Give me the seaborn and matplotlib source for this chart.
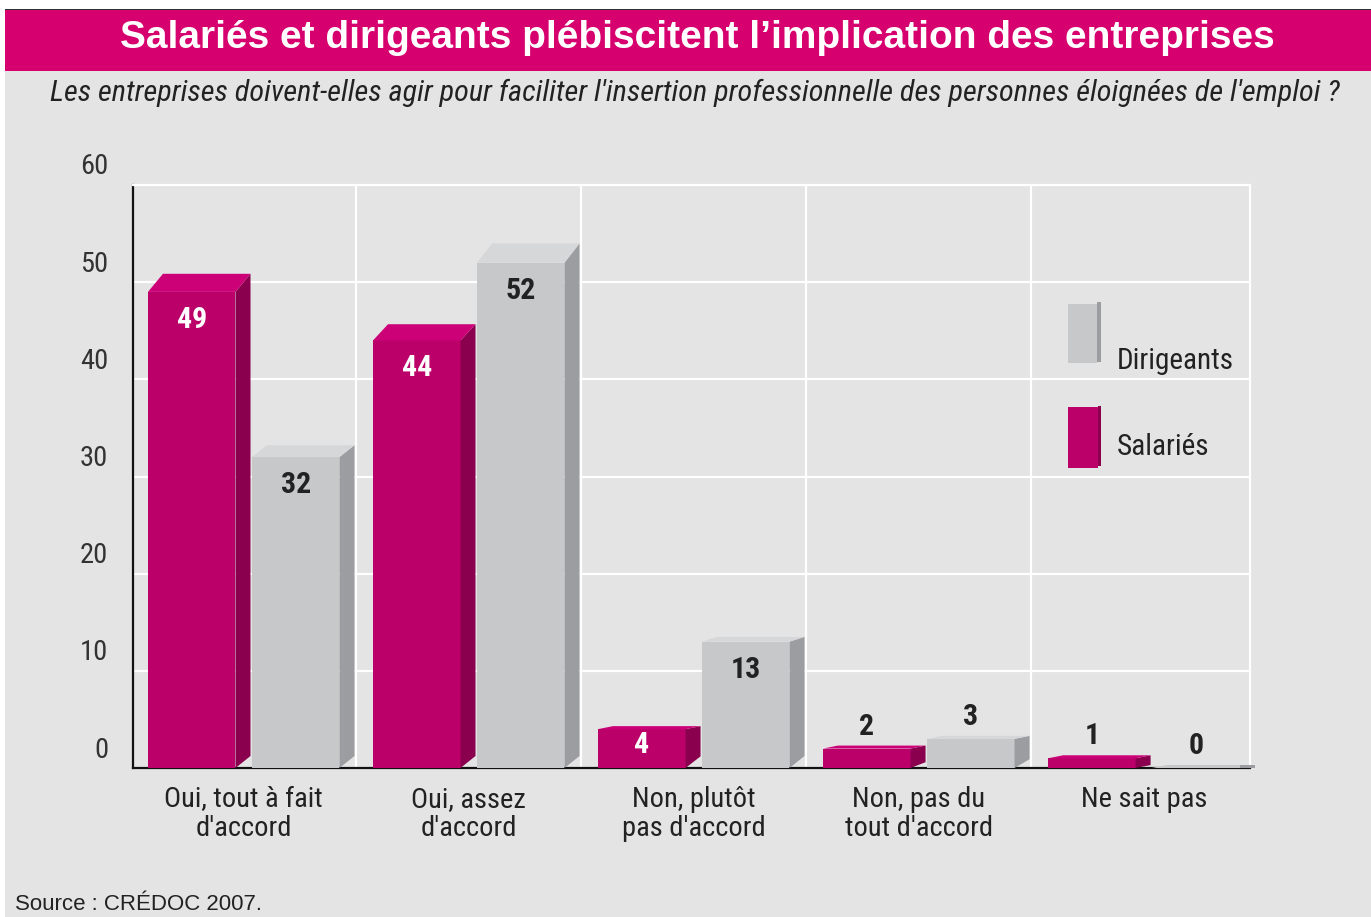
import matplotlib
matplotlib.use("Agg")
import matplotlib.pyplot as plt
import matplotlib.transforms as mtransforms
from matplotlib import font_manager
from matplotlib.patches import Rectangle, Polygon
import pandas as pd
import seaborn as sns

# --- data -----------------------------------------------------------------
categories = ["Oui, tout à fait\nd'accord", "Oui, assez\nd'accord",
              "Non, plutôt\npas d'accord", "Non, pas du\ntout d'accord",
              "Ne sait pas"]
salaries = [49, 44, 4, 2, 1]
dirigeants = [32, 52, 13, 3, 0]
groups = ["Salariés", "Dirigeants"]
y_ticks = [0, 10, 20, 30, 40, 50, 60]

df = pd.DataFrame({
    "reponse": categories * 2,
    "groupe": [groups[0]] * len(categories) + [groups[1]] * len(categories),
    "pct": salaries + dirigeants,
})

# --- style ----------------------------------------------------------------
BG = "#E4E4E4"
MAG = "#D6006E"
MAG_FRONT, MAG_SIDE, MAG_TOP = "#BC006A", "#8A004E", "#CC0077"
GRY_FRONT, GRY_SIDE, GRY_TOP = "#C7C8CA", "#9C9DA0", "#D6D7D9"
DARK = "#222222"

names = {f.name for f in font_manager.fontManager.ttflist}
NARROW = next((n for n in ["Roboto Condensed", "Liberation Sans Narrow", "DejaVu Sans"]
               if n in names), "DejaVu Sans")
STRETCH = "condensed" if NARROW == "DejaVu Sans" else "normal"
SANS = "Liberation Sans" if "Liberation Sans" in names else "DejaVu Sans"

W, H = 1371, 917
fig = plt.figure(figsize=(W / 100, H / 100), dpi=100)
fig.patch.set_facecolor("white")

# page background, dark rule and title band
fig.add_artist(Rectangle((5 / W, 0), 1, 1 - 10 / H, transform=fig.transFigure,
                         facecolor=BG, edgecolor="none", zorder=-10))
fig.add_artist(Rectangle((5 / W, 1 - 11 / H), 1, 2.5 / H, transform=fig.transFigure,
                         facecolor="#333333", edgecolor="none", zorder=-9))
fig.add_artist(Rectangle((5 / W, 1 - 71 / H), 1, 60.5 / H, transform=fig.transFigure,
                         facecolor=MAG, edgecolor="none", zorder=-9))

fig.text(697 / W, 1 - 48 / H,
         "Salariés et dirigeants plébiscitent l’implication des entreprises",
         ha="center", va="baseline", color="white", fontsize=28,
         fontweight="bold", family=SANS)
fig.text(695 / W, 1 - 101 / H,
         "Les entreprises doivent-elles agir pour faciliter l'insertion "
         "professionnelle des personnes éloignées de l'emploi ?",
         ha="center", va="baseline", color=DARK, fontsize=21.8, style="italic",
         family=NARROW, fontstretch=STRETCH)
fig.text(15 / W, 1 - 910 / H, "Source : CRÉDOC 2007.", ha="left", va="baseline",
         color=DARK, fontsize=16, family=SANS)

# --- axes -----------------------------------------------------------------
ax = fig.add_axes([133 / W, 1 - 768 / H, 1117 / W, 583 / H])
ax.set_facecolor("none")

sns.barplot(data=df, x="reponse", y="pct", hue="groupe", hue_order=groups,
            palette=[MAG_FRONT, GRY_FRONT], saturation=1, width=0.924, gap=0.158,
            linewidth=0, legend=False, ax=ax, zorder=3)

ax.set_xlim(-0.492, 4.472)
ax.set_ylim(0, 60)
ax.set_xlabel("")
ax.set_ylabel("")

ax.set_yticks(y_ticks)
ax.set_xticks(range(len(categories)))
ax.set_xticks([i + 0.5 for i in range(len(categories) - 1)], minor=True)
ax.set_xticklabels(categories)
ax.set_axisbelow(True)
ax.grid(axis="y", which="major", color="white", lw=1.6)
ax.grid(axis="x", which="minor", color="white", lw=1.6)
ax.grid(axis="x", which="major", visible=False)
ax.tick_params(axis="both", which="both", length=0)
ax.tick_params(axis="y", pad=18, labelsize=20.5, labelcolor="#333333")
ax.tick_params(axis="x", pad=13, labelsize=20.5, labelcolor=DARK)
for lab in ax.get_yticklabels() + ax.get_xticklabels():
    lab.set_family(NARROW)
    lab.set_fontstretch(STRETCH)
for lab in ax.get_xticklabels():
    lab.set_linespacing(1.07)
for lab in ax.get_yticklabels():
    lab.set_transform(lab.get_transform() +
                      mtransforms.ScaledTranslation(0, 21 / 100, fig.dpi_scale_trans))

for s in ("left", "bottom"):
    ax.spines[s].set_color("#111111")
    ax.spines[s].set_linewidth(1.6)
for s in ("top", "right"):
    ax.spines[s].set_color("white")
    ax.spines[s].set_linewidth(1.6)

# --- pseudo 3D faces, built from the bars seaborn drew -----------------------
DX = 15  # depth in pixels
inv = ax.transData.inverted()
shades = [(MAG_SIDE, MAG_TOP, MAG_FRONT), (GRY_SIDE, GRY_TOP, GRY_FRONT)]
for cont, (side_c, top_c, front_c) in zip(ax.containers, shades):
    for bar in cont:
        x0, y0 = bar.get_x(), bar.get_y()
        x1, y1 = x0 + bar.get_width(), y0 + bar.get_height()
        (p0x, p0y), (p1x, p1y) = ax.transData.transform([(x0, y0), (x1, y1)])
        hpx = p1y - p0y
        rise = max(3, 0.038 * hpx)
        bevel = min(12, 0.3 * hpx)
        side = [(p1x, p0y), (p1x, p1y), (p1x + DX, p1y + rise), (p1x + DX, p0y + bevel)]
        top = [(p0x, p1y), (p1x, p1y), (p1x + DX, p1y + rise), (p0x + DX, p1y + rise)]
        # an empty bar still shows as a thin floor strip
        tc = front_c if hpx < 1 else top_c
        for pts, c in ((side, side_c), (top, tc)):
            ax.add_patch(Polygon(inv.transform(pts), closed=True, facecolor=c,
                                 edgecolor="none", zorder=3, clip_on=False))
        if hpx < 1:
            end = [(p1x, p0y), (p1x + DX, p0y), (p1x + DX, p0y + rise), (p1x, p0y + rise)]
            ax.add_patch(Polygon(inv.transform(end), closed=True, facecolor=side_c,
                                 edgecolor="none", zorder=3, clip_on=False))

# value labels
for cont, vals, inner in zip(ax.containers, [salaries, dirigeants], ["white", DARK]):
    for bar, v in zip(cont, vals):
        cx = bar.get_x() + bar.get_width() / 2
        hpx = (ax.transData.transform((0, bar.get_height()))[1]
               - ax.transData.transform((0, 0))[1])
        if v >= 4:
            off, col = -min(28, 0.42 * hpx), inner
        else:
            off, col = 22, DARK
        ax.annotate(str(v), (cx, bar.get_height()), xytext=(0, off * 0.72),
                    textcoords="offset points", ha="center", va="center",
                    color=col, fontsize=21.5, fontweight="bold", family=NARROW,
                    fontstretch=STRETCH, zorder=5)

# --- legend (3D-like swatches) ---------------------------------------------
def fig_rect(x0, y0, x1, y1, color):
    fig.add_artist(Rectangle((x0 / W, 1 - y1 / H), (x1 - x0) / W, (y1 - y0) / H,
                             transform=fig.transFigure, facecolor=color,
                             edgecolor="none"))

fig_rect(1068, 304, 1097, 363, GRY_FRONT)
fig_rect(1097, 302, 1101, 362, GRY_SIDE)
fig_rect(1068, 407, 1098, 468, MAG_FRONT)
fig_rect(1098, 406, 1101, 466, MAG_SIDE)
for label, yc in (("Dirigeants", 361), ("Salariés", 447)):
    fig.text(1117 / W, 1 - yc / H, label, ha="left", va="center", fontsize=21,
             color=DARK, family=NARROW, fontstretch=STRETCH)

fig.savefig("out.png", dpi=100, facecolor=fig.get_facecolor())
